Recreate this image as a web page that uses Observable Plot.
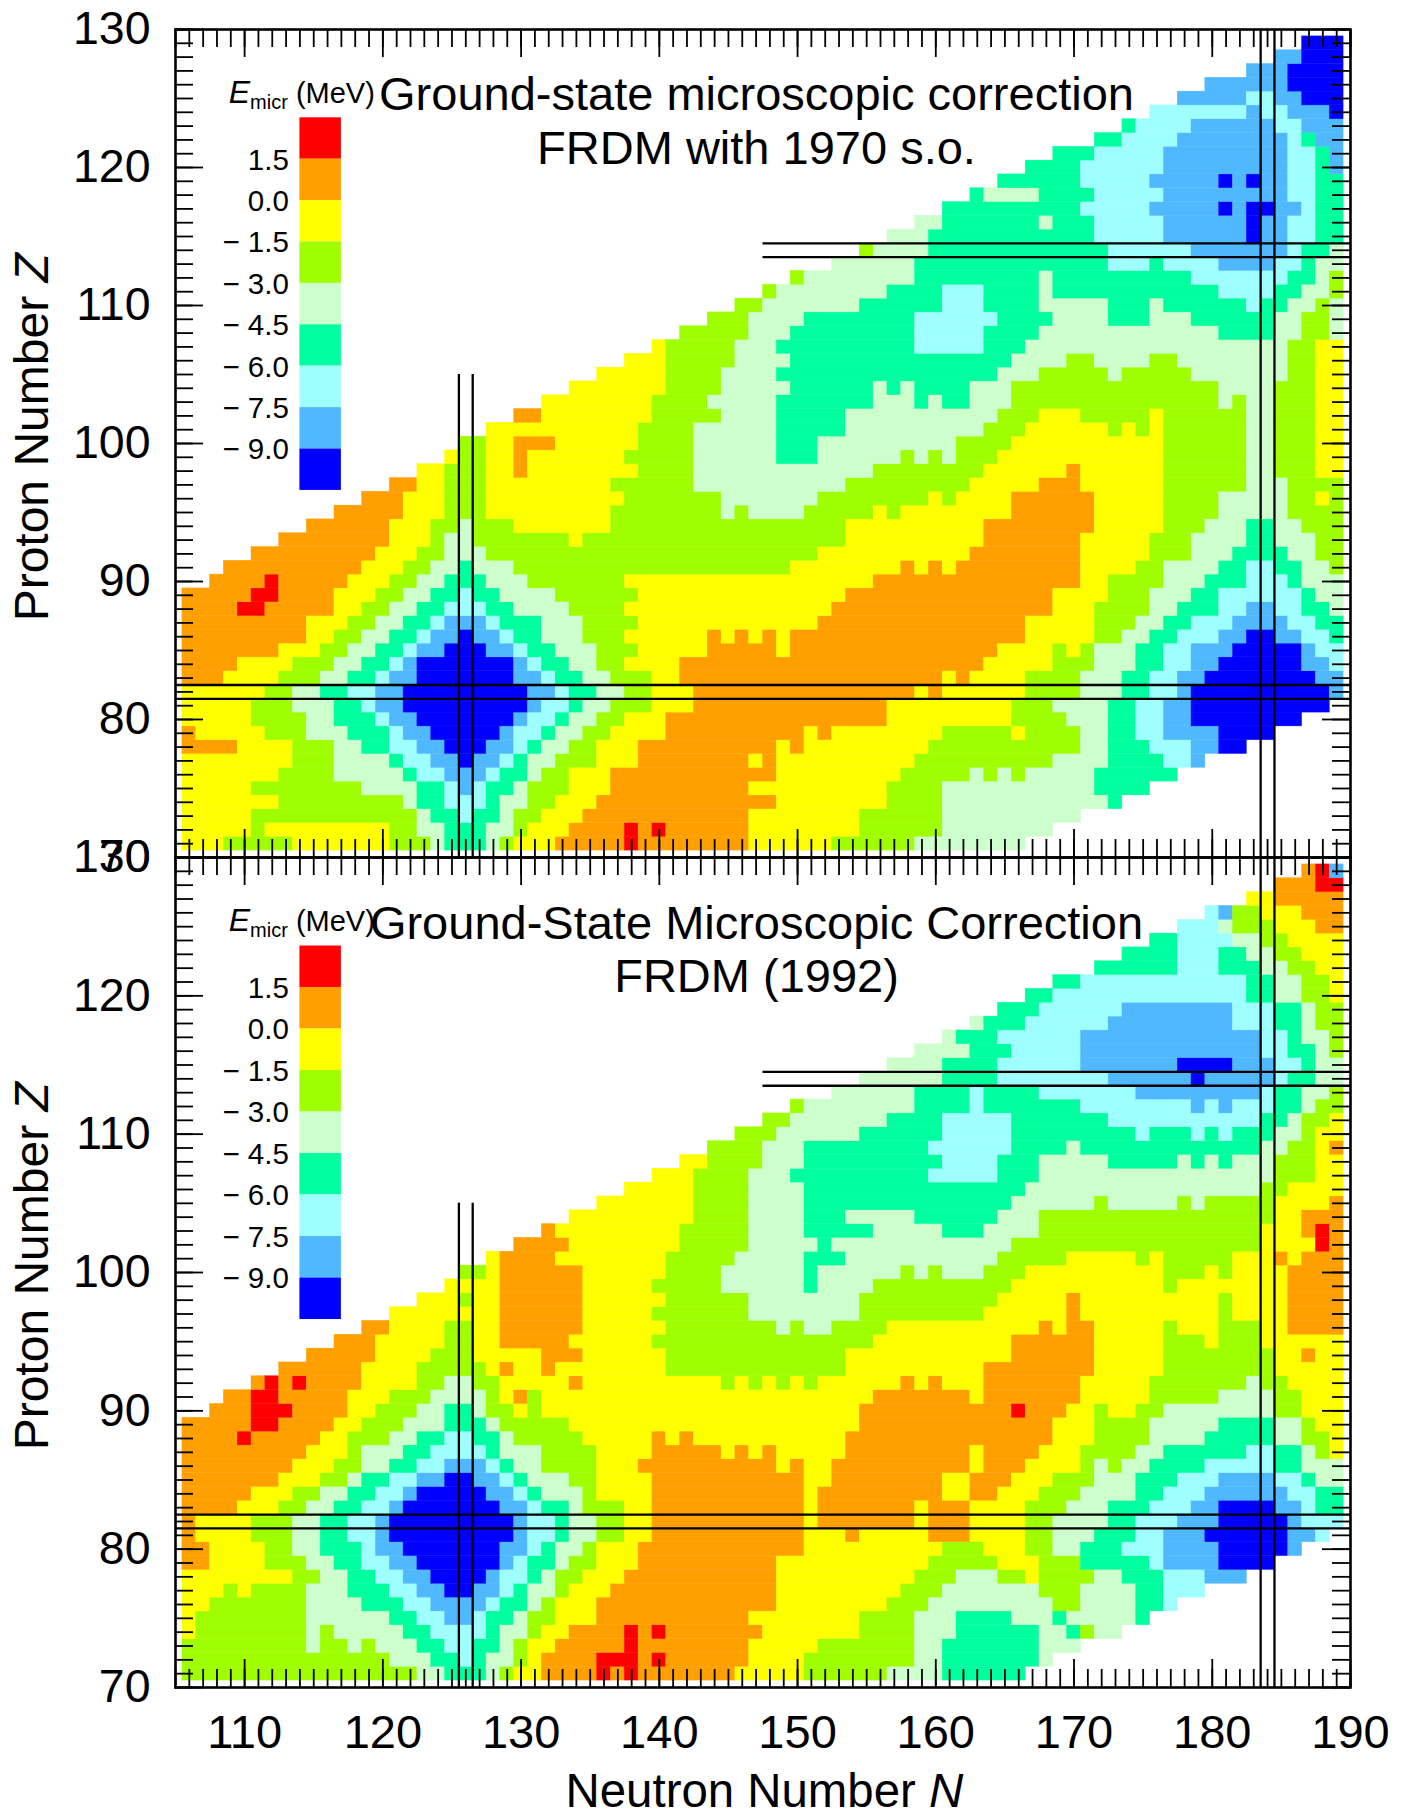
<!DOCTYPE html>
<html>
<head>
<meta charset="utf-8">
<script src="https://cdn.jsdelivr.net/npm/d3@7"></script>
<script src="https://cdn.jsdelivr.net/npm/@observablehq/plot@0.6"></script>
<style>
html,body{margin:0;padding:0;background:#fff}
#wrap{position:relative;width:1401px;height:1813px;overflow:hidden}
#wrap svg{position:absolute;left:0;background:transparent}
</style>
</head>
<body>
<div id="wrap"></div>
<script>
// Level letters: r red, o orange, y yellow, g yellow-green, p pale, s spring, c cyan, b light blue, d blue
const levelLetters = ["d","b","c","s","p","g","y","o","r"];
const levelValues = [-9.75,-8.25,-6.75,-5.25,-3.75,-2.25,-0.75,0.75,2.25];
const levelColors = ["#0000ff","#4fb8ff","#9fffff","#00ff9f","#ccffcc","#9fff00","#ffff00","#ff9f00","#ff0000"];
const thresholds = [-9,-7.5,-6,-4.5,-3,-1.5,0,1.5];
const legendLabels = ["1.5","0.0","\u2212 1.5","\u2212 3.0","\u2212 4.5","\u2212 6.0","\u2212 7.5","\u2212 9.0"];
const xMajor = [110,120,130,140,150,160,170,180,190];
const yMajor = [70,80,90,100,110,120,130];
const firstZ = 71;

// Each row is one proton number Z (71 upward): runs "startN+level", closed by the end N
const rows1970 = [
"106y 109g 114y 121g 124p 125s 128p 129g 130y 133o 138r 139o 147y 153g 159p 167",
"106y 111g 112y 121g 123p 125s 128p 130g 131y 134o 138r 139o 140r 141o 147y 155g 161p 169",
"106y 111g 123p 124s 126c 127s 129p 130g 132y 135o 147y 155g 161p 171",
"106y 113g 122p 123s 125c 128s 129p 131g 133y 136o 149y 157g 161p 173s 174",
"106y 111g 119p 123s 125c 126b 127c 128s 130p 131g 134y 137o 147y 157g 161p 172s 176",
"106y 113g 117p 122s 123c 125b 128c 129s 131p 132g 134y 137o 149y 158g 163p 164g 165p 166g 167p 172s 178",
"106y 114g 117p 121s 122c 124b 126d 127b 129c 130s 131p 133g 136y 139o 147y 148o 149y 159g 169p 173s 177c 179b 180",
"106o 110y 114g 117p 119s 121c 123b 125d 128b 130c 131s 132p 134g 136y 139o 149y 150o 151y 160g 171p 173s 176c 179b 181d 183",
"106o 107y 112g 115p 118s 121c 122b 124d 129b 130c 132s 133p 135g 137y 141o 151y 152o 153y 161g 166y 167g 171p 173s 175c 177b 181d 185",
"106y 111g 115p 117s 120c 121b 123d 130b 131c 133s 134p 136g 138y 141o 157y 166g 170p 173s 175c 177b 179d 187",
"106y 111g 114p 117s 119c 120b 122d 131b 132c 134s 135p 137g 140y 143o 157y 166g 169p 173s 175c 177b 179d 189",
"106y 112g 114p 116s 118c 120b 122d 131b 133c 134s 136p 138g 140y 143o 159y 160o 161y 167g 171p 174s 176c 178b 179d 189b 190",
"106o 109y 113g 116p 118s 120c 121b 123d 130b 132c 133s 135p 137g 140y 142o 161y 162o 163y 167g 171p 174s 176c 178b 180d 188b 190",
"106o 110y 114g 117p 119s 121c 122b 123d 130b 131c 132s 134p 136g 138y 142o 164y 169g 172p 175s 177c 179b 181d 187b 189c 190",
"106o 113y 116g 118p 120s 122c 123b 125d 128b 130c 131s 133p 136g 139y 144o 149y 150o 165y 169g 170y 171g 172p 175s 177c 179b 182d 187b 188c 190",
"106o 115y 117g 119p 121s 123c 124b 126d 127b 129c 130s 132p 135g 138y 144o 145y 146o 147y 148o 149y 150o 167y 172g 174p 176s 178c 181b 183d 185b 187c 189s 190",
"106o 115y 118g 120p 122s 124c 125b 128c 129s 132p 135g 139y 152o 167y 172g 175p 177s 179c 182b 186c 188s 190",
"106o 110r 112o 117y 119g 121p 123s 125c 128s 130p 134g 138y 153o 169y 172g 176p 178s 181c 183b 185c 187s 189p 190",
"106o 111r 113o 117y 120g 122p 124s 126c 127s 129p 133g 139y 154o 169y 173g 176p 179s 181c 187s 188p 190",
"108o 112r 113o 118y 121g 123p 125s 128p 131g 138y 156o 171y 173g 177p 180s 183c 186s 187p 190",
"109o 119y 122g 124p 126s 127p 130g 150y 158o 159y 160o 161y 162o 171y 175g 177p 181s 183c 185s 187p 189g 190",
"111o 120y 123g 125p 128g 152y 163o 171y 176g 179p 182s 186p 188g 190",
"113o 121y 124g 125p 127g 134y 135g 154y 164o 171y 176g 179p 183s 185p 188g 190",
"115o 121y 124g 126p 127g 130y 137g 154y 164o 172y 177g 180p 183s 185p 187g 190",
"117o 122y 125g 128y 137g 145p 146g 147p 151g 156y 157g 158y 166o 172y 177g 181p 186g 190",
"119o 122y 125g 128y 138g 145p 152g 160y 161g 162y 166o 172y 177g 181p 186g 188y 189g 190",
"121o 123y 125g 128y 137g 143p 154g 163y 168o 171y 177g 183p 186g 190",
"123y 125g 128y 130o 131y 139g 143p 156g 164y 170o 171y 177g 183p 185g 188y 190",
"125y 126g 128y 130o 131y 138g 143p 149s 152p 158g 159p 160g 161p 162g 165y 177g 183p 185g 188y 190",
"126g 128y 130o 133y 139g 143p 149s 152p 162g 166y 177g 183p 185g 188y 190",
"128y 139g 143p 149s 154p 164g 167y 173g 174y 175g 176y 177g 183p 185g 188y 190",
"130o 132y 140g 145p 149s 154p 165g 168y 171g 176y 177g 183p 185g 188y 190",
"132y 140g 144p 149s 156p 159s 160p 161s 163p 166g 181p 182g 183p 185g 188y 190",
"134y 141g 145p 150s 156p 157s 158p 159s 163p 166g 181p 185g 188y 190",
"136y 141g 145p 149s 165p 168g 173p 174g 179p 186g 188y 190",
"138y 141g 146p 150s 166p 170g 172p 176g 178p 186g 188y 190",
"140y 141g 146p 149s 159c 164s 167p 186g 188y 190",
"142g 147p 150s 159c 164s 168p 181s 185p 187g 189p 190",
"144g 147p 151s 159c 165s 169p 173s 176p 179s 185p 187g 189p 190",
"146g 148p 155s 161c 164s 168p 173s 176p 177s 183c 184s 186p 188g 189p 190",
"148g 149p 157s 161c 164s 168p 169s 181c 185s 187p 189g 190",
"150g 151p 159s 168p 169s 179c 186s 188p 189g 190",
"153p 159s 173c 176s 177c 181b 185c 187s 188p 190",
"155g 156p 160s 173c 179b 186c 187s 189p 190",
"157p 160s 172c 177b 183d 184b 186c 188s 190",
"159p 161s 168p 169s 172c 177b 183d 184b 186c 188s 190",
"161s 171c 176b 181d 182b 183d 185b 187c 188s 190",
"163s 164p 168s 172c 177b 186c 188s 190",
"165s 171c 176b 181d 182b 183d 184b 186c 188s 190",
"167s 171c 177b 186c 188s 189b 190",
"169s 172c 177b 186c 188s 189b 190",
"172s 174c 178b 186c 187s 188b 190",
"174s 175c 179b 185c 187b 190",
"176c 183b 184c 186b 189d 190",
"178b 183c 185b 187d 190",
"180b 186d 190",
"183b 186d 190",
"185b 187d 190",
"187d 190"
];

const rows1992 = [
"106g 123p 125s 128p 129g 130y 132o 136r 137o 138r 139o 146y 151g 157p 161s 167",
"106g 121p 124s 126c 127s 128p 130g 131y 132o 136r 139o 140r 141o 147y 151g 159p 161s 168p 169",
"106g 115p 116g 118p 119g 120p 123s 125c 127s 129p 130g 131y 133o 138r 139o 147y 152g 159p 161s 168p 171",
"106y 107g 115p 116g 117p 122s 124c 128s 129p 131g 132y 134o 138r 139o 140r 141o 148y 155g 159p 162s 168p 170s 171g 172p 174",
"106y 107g 115p 121s 123c 125b 127c 128s 130p 131g 133y 136o 147y 155g 159p 162s 166p 169s 170p 175s 176",
"106y 108g 115p 119s 122c 124b 128c 129s 131p 132g 133y 136o 149y 157g 160p 169g 171p 175s 177c 178",
"106y 109g 110y 111g 115p 118s 121c 123b 125d 127b 129c 130s 131p 133g 134y 137o 149y 158g 161p 168g 171p 175s 177c 180",
"106y 114g 116p 118s 120c 122b 124d 128b 129c 131s 132p 133g 135y 138o 149y 159g 162p 165g 167y 168g 172p 174s 177c 180b 183",
"106o 108y 112g 115p 117s 119c 121b 123d 129b 130c 131s 133p 134g 136y 139o 149y 160g 165y 168g 171s 176c 177b 181d 185",
"106o 108y 112g 114p 116s 119c 120b 122d 129b 131c 132s 133p 135g 136y 139o 151y 161g 164y 167g 169p 171s 174c 177b 181d 186b 187",
"106o 107y 111g 114p 116s 118c 120b 121d 130b 131c 133s 134p 136g 138y 140o 151y 154o 155y 160o 163y 167g 169p 172s 175c 177b 180d 186b 188c 189",
"106o 107y 111g 114p 116s 118c 120b 121d 130b 131c 133s 134p 136g 138y 140o 151y 152o 159y 160o 163y 167g 169p 173s 175c 178b 181d 186b 187c 190",
"106o 110y 113g 115p 117s 119c 121b 122d 129b 131c 132s 134p 135g 138y 140o 151y 152o 159y 160o 163y 167g 170p 173s 176c 179b 181d 185b 187c 188s 190",
"106o 111y 114g 116p 118s 120c 122b 123d 128b 130c 131s 132p 135g 136y 140o 151y 152o 161y 163o 165y 168g 171p 175s 177c 180b 186c 188s 190",
"106o 113y 116g 118p 119s 121c 123b 125d 127b 129c 130s 131p 134g 136y 140o 151y 153o 161y 163o 166y 169g 172p 175s 178c 181b 185c 187s 188p 190",
"106o 114y 117g 119p 121s 123c 125b 128c 129s 130p 132g 136y 139o 149y 150o 151y 153o 163y 164o 167y 171g 172p 173g 174p 176s 180c 185s 187p 190",
"106o 115y 118g 119p 122s 124c 128s 129p 132g 136y 140o 145y 146o 147y 148o 149y 154o 163y 164o 168y 171g 175p 177s 183c 185s 187p 188g 189y 190",
"106o 110r 111o 116y 118g 121p 123s 125c 127s 129p 130g 135y 140o 141y 142o 143y 154o 169y 172g 176p 180s 185p 187g 189y 190",
"106o 111r 113o 117y 119g 122p 125s 128p 129g 134y 155o 169y 172g 176p 181s 185p 187g 188y 190",
"108o 111r 114o 118y 120g 123p 125s 127p 128g 130y 131g 132y 155o 166r 167o 170y 172g 173y 175g 177p 185g 187y 190",
"109o 111r 113o 118y 121g 124p 128g 129y 130o 131g 132y 156o 163y 164o 171y 176g 181p 185g 187y 190",
"111o 112r 113o 114r 115o 119y 123g 125p 127g 129y 134o 135y 145g 146y 147g 148y 149g 150y 151g 152y 158o 159y 160o 161y 164o 171y 176g 183p 184g 186y 190",
"113o 119y 123g 128y 129o 130y 132o 133y 141g 154y 164o 172y 177g 185y 190",
"115o 120y 124g 127y 132o 135y 141g 154y 166o 172y 177g 185y 187o 188y 190",
"117o 120y 125g 127y 129o 134y 140g 156y 166o 172y 177g 180y 181g 184y 190",
"119o 121y 125g 127y 129o 135y 141g 149p 150g 151p 153g 157y 168o 169y 170o 172y 177g 178y 181g 184y 186o 190",
"121y 129o 135y 140g 147p 155g 164y 170o 171y 181g 182y 186o 190",
"123y 126g 127y 129o 135y 141g 147p 155g 165y 170o 171y 181g 182y 186o 190",
"125y 129o 135y 140g 145p 151s 152p 156g 166y 177g 178y 186o 190",
"126g 128y 129o 135y 141g 145p 151s 152p 158g 159p 160g 161p 164g 167y 177g 180y 181g 182y 186o 190",
"128y 129o 133y 141g 146p 151s 154p 165g 170y 175g 176y 177g 182y 185o 186y 187o 190",
"130o 134y 142g 147p 152s 153p 166g 184y 188r 189o 190",
"132o 133y 142g 147p 151s 156p 161s 164p 168g 184y 187o 188r 189o 190",
"134y 143g 147p 151s 154p 159s 165p 168g 185y 187o 190",
"136y 143g 147p 151s 166p 172g 173p 178g 179p 180g 185y 189o 190",
"138y 143g 147p 151s 167p 184g 186y 190",
"140y 143g 147p 150s 160c 165s 168p 185g 188y 190",
"142y 144g 148p 151s 161c 165s 168p 173s 178p 179s 180p 181s 182p 185g 188y 190",
"144g 148p 151s 160c 166s 170p 171s 184p 186g 188y 189o 190",
"146g 149p 155s 161c 166s 175c 176s 179c 180s 181c 182s 185p 187g 188y 190",
"148g 150p 157s 161c 166s 173c 184s 186p 187g 189y 190",
"150g 151p 159s 163c 164s 171c 179b 180c 181b 182c 185s 187p 188g 190",
"153p 159s 163c 164s 168c 175b 184c 185s 187p 189g 190",
"155p 161s 165c 173b 179d 180b 185c 186s 188p 190",
"157p 161s 165c 171b 178d 182b 185c 187s 188p 190",
"159p 163s 166c 171b 184c 186s 188p 189g 190",
"161p 162s 165c 171b 184c 186s 187p 189g 190",
"163p 164s 167c 173b 182c 185s 187p 188g 190",
"165s 168c 174b 182c 185s 187p 188g 190",
"167s 169c 183s 185p 187g 189y 190",
"169s 171c 183s 185p 187g 189y 190",
"172s 178c 181s 184p 186g 188y 190",
"174s 178c 181s 183p 185g 187y 190",
"176s 178c 182p 184g 186y 190",
"178c 181p 182g 185y 188o 190",
"180c 181b 182g 184y 187o 190",
"183y 185o 190",
"185o 188r 190",
"187o 188r 189b 190"
];

const fontFamily = "'Liberation Sans', Arial, sans-serif";
const unitPx = 13.82;
const minorLen = 18 / unitPx, majorLen = 28 / unitPx;
const xAll = d3.range(105, 191);
const yAll = d3.range(70, 131);

function expand(rows) {
  const out = [];
  rows.forEach((row, i) => {
    const toks = row.split(" ");
    for (let k = 0; k < toks.length - 1; k++) {
      const n0 = parseInt(toks[k]), n1 = parseInt(toks[k + 1]);
      const value = levelValues[levelLetters.indexOf(toks[k].slice(-1))];
      out.push({z: firstZ + i, n0, n1, value});
    }
  });
  return out;
}

function panel({rows, titles, titleZ, titleSize, top, showX}) {
  const legendTop = 123.6;
  const legend = levelValues.slice().reverse().map((value, i) => ({value, y2: legendTop - 3 * i, y1: legendTop - 3 * (i + 1)}));
  const legendText = legendLabels.map((t, i) => ({t, z: legendTop - 3 * (i + 1) - 0.07}));
  const marksList = [
    Plot.rect(expand(rows), {
      x1: d => d.n0 - 0.5, x2: d => d.n1 - 0.5,
      y1: d => d.z - 0.5, y2: d => d.z + 0.5,
      fill: "value", stroke: "value", strokeWidth: 0.4
    }),
    Plot.rect(legend, {x1: 114, x2: 117, y1: "y1", y2: "y2", fill: "value"}),
    Plot.text(legendText, {x: 113.2, y: "z", text: "t", textAnchor: "end", fontSize: 29.5, fill: "#000"}),
    Plot.text(["Emicr (MeV)"], {x: 108.85, y: titleZ[0] + 0.1, textAnchor: "start", fontSize: 29, fill: "#000"}),
    Plot.text([titles[0]], {x: 147.03, y: titleZ[0], fontSize: titleSize, fill: "#000"}),
    Plot.text([titles[1]], {x: 147.03, y: titleZ[1], fontSize: titleSize, fill: "#000"}),
    // magic-number guide lines
    Plot.ruleX([125.5, 126.5], {y1: 70, y2: 105, stroke: "#000", strokeWidth: 2.3}),
    Plot.ruleX([183.5, 184.5], {y1: 70, y2: 130, stroke: "#000", strokeWidth: 2.3}),
    Plot.ruleY([81.5, 82.5], {x1: 105, x2: 190, stroke: "#000", strokeWidth: 2.3}),
    Plot.ruleY([113.5, 114.5], {x1: 147.5, x2: 190, stroke: "#000", strokeWidth: 2.3}),
    // inward ticks on all four sides
    Plot.ruleX(xAll, {y1: 70, y2: 70 + minorLen, stroke: "#000", strokeWidth: 1.8}),
    Plot.ruleX(xAll, {y1: 130, y2: 130 - minorLen, stroke: "#000", strokeWidth: 1.8}),
    Plot.ruleX(xMajor, {y1: 70, y2: 70 + majorLen, stroke: "#000", strokeWidth: 1.8}),
    Plot.ruleX(xMajor, {y1: 130, y2: 130 - majorLen, stroke: "#000", strokeWidth: 1.8}),
    Plot.ruleY(yAll, {x1: 105, x2: 105 + minorLen, stroke: "#000", strokeWidth: 1.8}),
    Plot.ruleY(yAll, {x1: 190, x2: 190 - minorLen, stroke: "#000", strokeWidth: 1.8}),
    Plot.ruleY(yMajor, {x1: 105, x2: 105 + majorLen, stroke: "#000", strokeWidth: 1.8}),
    Plot.ruleY(yMajor, {x1: 190, x2: 190 - majorLen, stroke: "#000", strokeWidth: 1.8}),
    Plot.frame({stroke: "#000", strokeWidth: 2.6}),
    Plot.axisY(yMajor, {anchor: "left", tickSize: 0, tickPadding: 25, fontSize: 46.5, label: null, tickFormat: "d", fill: "#000"}),
    Plot.text(["Proton Number Z"], {x: 94.7, y: 100.45, rotate: -90, fontSize: 48, fill: "#000"})
  ];
  if (showX) {
    marksList.push(
      Plot.axisX(xMajor, {anchor: "bottom", tickSize: 0, tickPadding: 27, fontSize: 47, label: null, tickFormat: "d", fill: "#000"}),
      Plot.text(["Neutron Number N"], {x: 147.6, y: 62.45, fontSize: 47.4, fill: "#000"})
    );
  }
  const height = showX ? 985 : 900;
  const svg = Plot.plot({
    width: 1401,
    height,
    marginLeft: 175,
    marginRight: 51,
    marginTop: 29,
    marginBottom: showX ? 126 : 43,
    style: {fontFamily, background: "transparent", overflow: "visible"},
    x: {domain: [105, 190], axis: null},
    y: {domain: [70, 130], axis: null},
    color: {type: "threshold", domain: thresholds, range: levelColors},
    marks: marksList
  });
  svg.style.top = top + "px";
  // real text with italics and the subscript
  d3.select(svg).selectAll("text").each(function () {
    const el = d3.select(this), s = el.text();
    const parts = {
      "Proton Number Z": [["Proton Number ", {}], ["Z", {"font-style": "italic"}]],
      "Neutron Number N": [["Neutron Number ", {}], ["N", {"font-style": "italic"}]],
      "Emicr (MeV)": [["E", {"font-style": "italic", "font-size": 32}], ["micr", {"font-size": 20, "dy": 6}], [" (MeV)", {"dy": -6}]]
    }[s];
    if (!parts) return;
    const host = el.select("tspan").empty() ? el : el.select("tspan");
    host.text(null);
    parts.forEach(([t, attrs]) => {
      const ts = host.append("tspan").text(t);
      for (const k in attrs) {
        if (k === "dy") ts.attr("dy", attrs[k]);
        else ts.style(k, attrs[k]);
      }
    });
  });
  return svg;
}

const wrap = document.getElementById("wrap");
wrap.appendChild(panel({
  rows: rows1970,
  titles: ["Ground-state microscopic correction", "FRDM with 1970 s.o."],
  titleZ: [125.23, 121.33], titleSize: 47, top: 0, showX: false
}));
wrap.appendChild(panel({
  rows: rows1992,
  titles: ["Ground-State Microscopic Correction", "FRDM (1992)"],
  titleZ: [125.23, 121.33], titleSize: 47, top: 828, showX: true
}));
</script>
</body>
</html>
